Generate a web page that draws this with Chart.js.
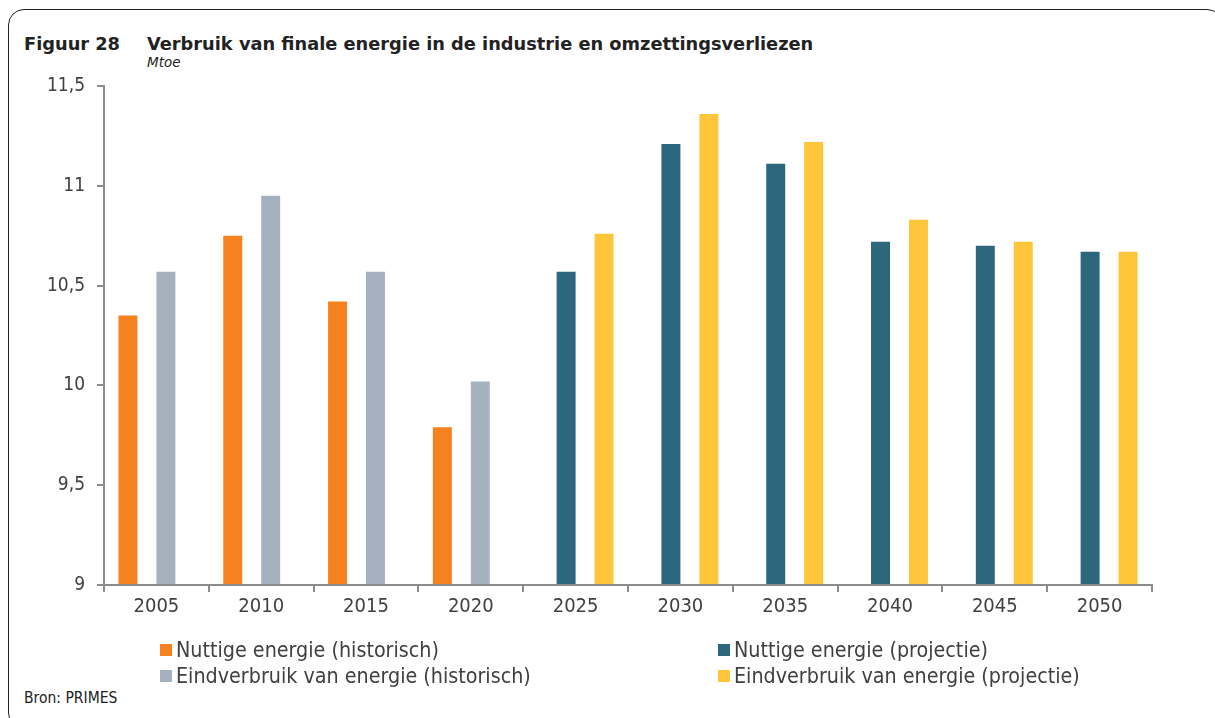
<!DOCTYPE html>
<html>
<head>
<meta charset="utf-8">
<script src="https://cdn.jsdelivr.net/npm/chart.js@4"></script>
<style>
  html, body { margin: 0; padding: 0; background: #fff; }
  body { width: 1215px; height: 718px; position: relative; overflow: hidden; font-family: "DejaVu Sans Condensed", "DejaVu Sans", sans-serif; }
  #frame { position: absolute; left: 8px; top: 9px; width: 1215px; height: 720px; border: 1.5px solid #222; border-radius: 16px; box-sizing: border-box; }
  #fig { position: absolute; left: 24px; top: 33px; font-family: "DejaVu Sans", sans-serif; font-weight: bold; font-size: 17.8px; color: #222; }
  #title { position: absolute; left: 147px; top: 33px; font-family: "DejaVu Sans", sans-serif; font-weight: bold; font-size: 17.8px; color: #222; }
  #unit { position: absolute; left: 147px; top: 54px; font-family: "DejaVu Sans", sans-serif; font-style: italic; font-size: 13.5px; color: #222; }
  #chartwrap { position: absolute; left: 0; top: 0; width: 1215px; height: 640px; }
  #legend { position: absolute; left: 160px; top: 637px; width: 1050px; display: grid; grid-template-columns: 558px 480px; row-gap: 1px; }
  .li { display: flex; align-items: center; font-size: 21.3px; color: #404040; height: 25px; white-space: nowrap; }
  .sw { width: 12px; height: 12px; margin-right: 4px; flex: none; }
  #src { position: absolute; left: 24px; top: 689px; font-size: 15.5px; color: #222; }
</style>
</head>
<body>
<div id="frame"></div>
<div id="fig">Figuur 28</div>
<div id="title">Verbruik van finale energie in de industrie en omzettingsverliezen</div>
<div id="unit">Mtoe</div>
<div id="chartwrap"><canvas id="c"></canvas></div>
<div id="legend"></div>
<div id="src">Bron: PRIMES</div>
<script>
const categories = ['2005','2010','2015','2020','2025','2030','2035','2040','2045','2050'];
const seriesNames = [
  'Nuttige energie (historisch)',
  'Nuttige energie (projectie)',
  'Eindverbruik van energie (historisch)',
  'Eindverbruik van energie (projectie)'
];
const nuttigHistorisch = [10.35, 10.75, 10.42, 9.79, null, null, null, null, null, null];
const nuttigProjectie = [null, null, null, null, 10.57, 11.21, 11.11, 10.72, 10.70, 10.67];
const eindHistorisch = [10.57, 10.95, 10.57, 10.02, null, null, null, null, null, null];
const eindProjectie = [null, null, null, null, 10.76, 11.36, 11.22, 10.83, 10.72, 10.67];
const yTicks = [9, 9.5, 10, 10.5, 11, 11.5];
const colors = ['#F5821F', '#2D677E', '#A5B1BF', '#FFC63C'];

const seriesValues = [nuttigHistorisch, nuttigProjectie, eindHistorisch, eindProjectie];
const datasets = seriesValues.map((vals, i) => ({
  label: seriesNames[i],
  data: vals,
  backgroundColor: colors[i],
  borderWidth: 0,
  base: yTicks[0],
  barPercentage: 1.0,
  categoryPercentage: 0.724
}));

const axisColor = '#8C8C8C';
const labelColor = '#404040';
const fontFam = '"DejaVu Sans Condensed", "DejaVu Sans", sans-serif';

const chart = new Chart(document.getElementById('c'), {
  type: 'bar',
  data: { labels: categories, datasets },
  options: {
    responsive: true,
    maintainAspectRatio: false,
    animation: false,
    layout: { padding: { left: 0, right: 63, top: 86, bottom: 0 } },
    plugins: { legend: { display: false }, tooltip: { enabled: false } },
    scales: {
      x: {
        grid: { display: true, drawOnChartArea: false, offset: true, color: axisColor, lineWidth: 2, tickLength: 7 },
        border: { display: true, color: axisColor, width: 2 },
        ticks: { color: labelColor, font: { family: fontFam, size: 20 }, padding: 3, maxRotation: 0 },
        afterFit: s => { s.height = 55; }
      },
      y: {
        min: yTicks[0],
        max: yTicks[yTicks.length - 1],
        afterBuildTicks: s => { s.ticks = yTicks.map(v => ({ value: v })); },
        grid: { display: true, drawOnChartArea: false, color: axisColor, lineWidth: 2, tickLength: 7 },
        border: { display: true, color: axisColor, width: 2 },
        ticks: {
          color: labelColor, font: { family: fontFam, size: 19 }, padding: 12,
          callback: v => String(v).replace('.', ',')
        },
        afterFit: s => { s.width = 104; }
      }
    }
  }
});

const leg = document.getElementById('legend');
chart.data.datasets.forEach(ds => {
  const d = document.createElement('div');
  d.className = 'li';
  d.innerHTML = '<span class="sw" style="background:' + ds.backgroundColor + '"></span><span></span>';
  d.lastChild.textContent = ds.label;
  leg.appendChild(d);
});
</script>
</body>
</html>
